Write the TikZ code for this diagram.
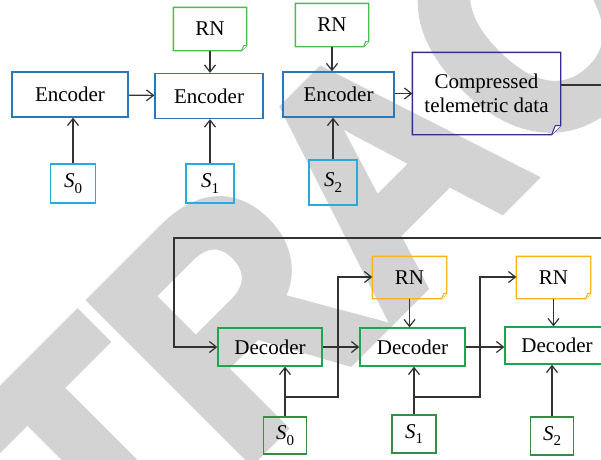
\documentclass[tikz,border=0pt]{standalone}
\usepackage{fontspec}
\setmainfont{Liberation Serif}
\newfontfamily\wmfont{Liberation Sans Bold}[FakeStretch=0.9, FakeBold=3.5]
\usetikzlibrary{arrows.meta,calc}
\definecolor{encblue}{RGB}{40,120,190}
\definecolor{sblue}{RGB}{40,170,225}
\definecolor{rngreen}{RGB}{70,190,80}
\definecolor{compc}{RGB}{50,45,145}
\definecolor{decgreen}{RGB}{30,165,80}
\definecolor{sgreen}{RGB}{55,140,70}
\definecolor{rnorange}{RGB}{250,180,20}
\definecolor{linec}{RGB}{50,50,50}
\definecolor{wmgray}{RGB}{211,211,211}
\newcommand\dogear[3]{%
  \draw[line width=1.3pt, draw=#2, line join=miter] (#1.north west) -- (#1.north east) -- ([yshift=#3]#1.south east) -- ([xshift=-#3]#1.south east) -- (#1.south west) -- cycle;
  \draw[line width=1pt, draw=#2, fill=white, line join=round] ([xshift=-#3]#1.south east) -- ([xshift=-0.6*#3, yshift=#3]#1.south east) -- ([yshift=#3]#1.south east);}
\newcommand\subS[1]{{\itshape S}\raisebox{-0.28em}{\fontsize{15}{15}\selectfont #1}}
\begin{document}
\begin{tikzpicture}[x=1pt,y=-1pt,
  box/.style={rectangle, inner sep=0pt, line width=1.3pt, font=\fontsize{21}{24}\selectfont, align=center},
  encbox/.style={box, draw=encblue, minimum width=#1, minimum height=45pt},
  sbox/.style={box, draw=#1, minimum width=45pt, minimum height=39pt},
  decbox/.style={box, draw=decgreen, minimum width=#1, minimum height=38pt},
  notebox/.style={box, minimum width=72pt, minimum height=42pt},
  conn/.style={draw=linec, line width=1.2pt},
  arr/.style={conn, -{Straight Barb[length=7pt,width=11pt]}},
]
\useasboundingbox (0,0) rectangle (601,459);
\clip (0,0) rectangle (601,459);
\fill[white] (0,0) rectangle (601,459);
% watermark
\node[rotate=45, anchor=base, inner sep=0pt, text=wmgray, font=\wmfont\fontsize{325}{325}\selectfont] (wm) at (462,248) {RETRACTED};

% encoder row
\node[encbox=116pt] (E1) at (70,94.5) {Encoder};
\node[encbox=108pt] (E2) at (209,96) {Encoder};
\node[encbox=111pt] (E3) at (338.5,94.5) {Encoder};
\node[notebox] (RN1) at (210,29) {RN};
\dogear{RN1}{rngreen}{5pt}
\node[notebox] (RN2) at (332,25) {RN};
\dogear{RN2}{rngreen}{5pt}
\node[sbox=sblue, minimum width=45pt] (S0) at (73,183.5) {\subS{0}};
\node[sbox=sblue, minimum width=48pt] (S1) at (210,183.5) {\subS{1}};
\node[sbox=sblue, minimum width=48pt, minimum height=45pt] (S2) at (333,182.5) {\subS{2}};
\node[box, minimum width=147pt, minimum height=81pt] (C) at (486.5,93.5) {Compressed\\telemetric data};
\dogear{C}{compc}{9pt}

\draw[arr] (E1) -- (E2);
\draw[arr] (RN1) -- (RN1 |- E2.north);
\draw[arr] (RN2) -- (RN2 |- E3.north);
\draw[arr] (S0) -- (S0 |- E1.south);
\draw[arr] (S1) -- (S1 |- E2.south);
\draw[arr] (S2) -- (S2 |- E3.south);
\draw[arr] (E3.east |- C.west) -- (C.west);
\coordinate (outR) at (606,85);
\draw[conn] (C.east |- outR) -- (outR);

% decoder row
\node[decbox=104pt] (D1) at (270,347) {Decoder};
\node[decbox=105pt] (D2) at (412.5,347) {Decoder};
\node[decbox=104pt, minimum height=37pt] (D3) at (557,345.5) {Decoder};
\node[notebox, minimum width=73pt, minimum height=41pt] (RN3) at (409.5,277.5) {RN};
\dogear{RN3}{rnorange}{5pt}
\node[notebox, minimum width=73pt, minimum height=41pt] (RN4) at (553.5,277.5) {RN};
\dogear{RN4}{rnorange}{5pt}
\node[sbox=sgreen, minimum width=43pt, minimum height=37pt] (T0) at (285,435.5) {\subS{0}};
\node[sbox=sgreen, minimum width=44pt, minimum height=38pt] (T1) at (414,434) {\subS{1}};
\node[sbox=sgreen, minimum width=43pt, minimum height=38pt] (T2) at (552,436) {\subS{2}};

\coordinate (fbR) at (606,238);
\coordinate (fbL) at (174,238);
\draw[arr] (fbR) -- (fbL) |- (D1.west);
\draw[arr] (D1) -- (D2);
\draw[arr] (D2.east) -- (D2.east -| D3.west);
\draw[arr] (RN3) -- (RN3 |- D2.north);
\draw[arr] (RN4) -- (RN4 |- D3.north);
\draw[arr] (T0) -- (T0 |- D1.south);
\draw[arr] (T1) -- (T1 |- D2.south);
\draw[arr] (T2) -- (T2 |- D3.south);
\coordinate (b1) at (285,397);
\coordinate (u1) at (338,277);
\draw[arr] (b1) -| (u1) -- (u1 -| RN3.west);
\coordinate (b2) at (414,397);
\coordinate (u2) at (480,277);
\draw[arr] (b2) -| (u2) -- (u2 -| RN4.west);
\end{tikzpicture}
\end{document}
